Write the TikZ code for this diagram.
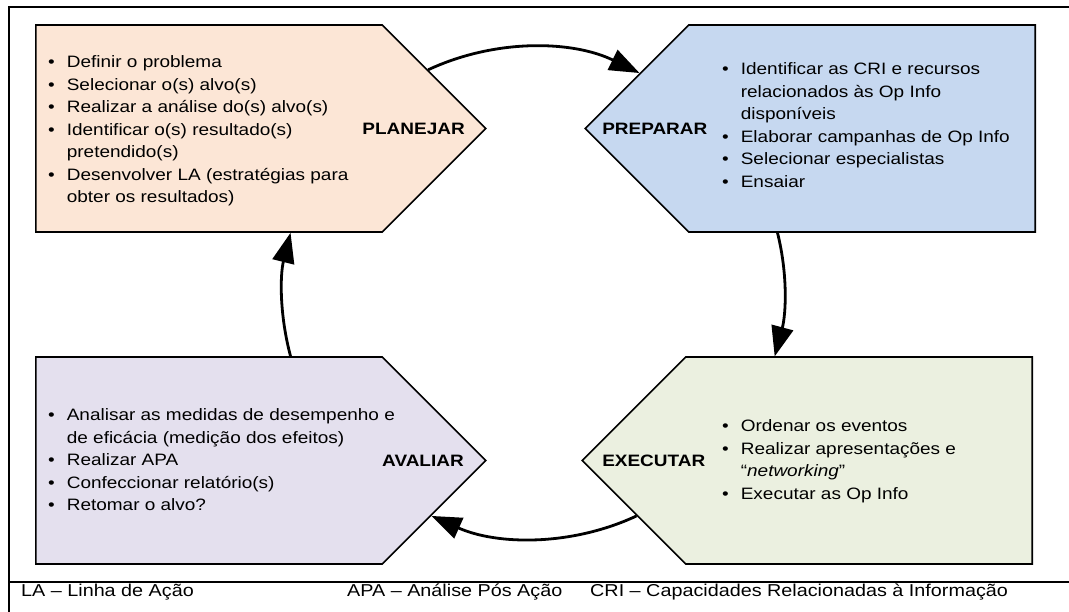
\documentclass[tikz,border=0pt]{standalone}
\usepackage{fontspec}
\setmainfont{Liberation Sans}[FakeStretch=1.15]
\usetikzlibrary{shapes.symbols,arrows.meta,positioning}
\definecolor{planfill}{RGB}{252,230,214}
\definecolor{prepfill}{RGB}{198,216,240}
\definecolor{avalfill}{RGB}{228,224,238}
\definecolor{execfill}{RGB}{235,240,224}
\newcommand{\bl}{\textbullet}
\tikzset{
  phase/.style={signal, draw=black, line width=1.6pt, signal pointer angle=90,
    minimum width=450pt, minimum height=207pt, inner sep=0pt},
  title/.style={font=\bfseries, inner sep=0pt},
  items/.style={inner sep=0pt, anchor=base west},
  note/.style={items, font=\fontsize{17.2}{20}\selectfont},
  cyc/.style={line width=2.8pt, -{Triangle[length=30pt,width=22pt]}, looseness=0.9},
  frame/.style={line width=1.8pt}
}
\begin{document}
\fontsize{16.5}{22.5}\selectfont
\begin{tikzpicture}[x=1pt,y=1pt]
    \useasboundingbox (0,0) rectangle (1069,612);
    \draw[frame] (1069,605) -- (9,605) -- (9,0);
    \draw[frame] (9,30) -- (1069,30);
    \node[phase, signal to=east, fill=planfill, anchor=west] (pl) at (35,483.5) {};
    \node[phase, signal to=west, fill=prepfill, anchor=east] (pr) at (1036,483.5) {};
    \node[phase, signal to=east, fill=avalfill, anchor=west] (av) at (35,151.5) {};
    \node[phase, signal to=west, fill=execfill, anchor=east] (ex) at (1033,151.5) {};
    \node[title, left=22pt of pl.east] (plt) {PLANEJAR};
    \node[title, right=18pt of pr.west] (prt) {PREPARAR};
    \node[title, left=23pt of av.east] (avt) {AVALIAR};
    \node[title, right=21pt of ex.west] (ext) {EXECUTAR};
    \node[items] (pll) at (48,544) {\begin{tabular}[t]{@{}l@{\hspace{12pt}}l@{}}
        \bl & Definir o problema\\
        \bl & Selecionar o(s) alvo(s)\\
        \bl & Realizar a análise do(s) alvo(s)\\
        \bl & Identificar o(s) resultado(s)\\
            & pretendido(s)\\
        \bl & Desenvolver LA (estratégias para\\
            & obter os resultados)
    \end{tabular}};
    \node[items] (prl) at (722,537) {\begin{tabular}[t]{@{}l@{\hspace{12pt}}l@{}}
        \bl & Identificar as CRI e recursos\\
            & relacionados às Op Info\\
            & disponíveis\\
        \bl & Elaborar campanhas de Op Info\\
        \bl & Selecionar especialistas\\
        \bl & Ensaiar
    \end{tabular}};
    \node[items] (avl) at (48,191) {\begin{tabular}[t]{@{}l@{\hspace{12pt}}l@{}}
        \bl & Analisar as medidas de desempenho e\\
            & de eficácia (medição dos efeitos)\\
        \bl & Realizar APA\\
        \bl & Confeccionar relatório(s)\\
        \bl & Retomar o alvo?
    \end{tabular}};
    \node[items] (exl) at (722,180) {\begin{tabular}[t]{@{}l@{\hspace{12pt}}l@{}}
        \bl & Ordenar os eventos\\
        \bl & Realizar apresentações e\\
            & “\textit{networking}”\\
        \bl & Executar as Op Info
    \end{tabular}};
    \draw[cyc] (pl.15) to[out=25,in=154] (pr.166.5);
    \draw[cyc] (pr.-129.4) to[out=-76,in=75] (ex.129);
    \draw[cyc] (ex.194.3) to[out=205,in=-24] (av.-14.5);
    \draw[cyc] (av.52.6) to[out=105,in=-104] (pl.-52.6);
    \node[note] (la) at (21,15) {LA – Linha de Ação};
    \node[note] (apa) at (347,15) {APA – Análise Pós Ação};
    \node[note] (cri) at (590,15) {CRI – Capacidades Relacionadas à Informação};
\end{tikzpicture}
\end{document}
